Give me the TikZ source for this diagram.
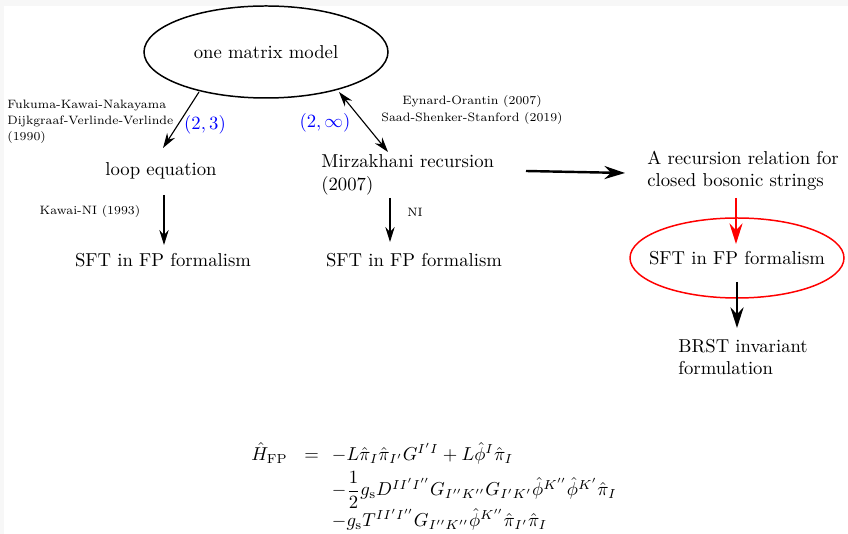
\documentclass[tikz,border=0pt]{standalone}
\usepackage{amsmath}
\usetikzlibrary{arrows.meta,shapes.geometric}
\begin{document}
\begin{tikzpicture}[x=0.535pt,y=-0.535pt,
  txt/.style={inner sep=0pt,font=\normalsize},
  cite/.style={inner sep=0pt,font=\fontsize{6.5}{8.6}\selectfont,align=left},
  cites/.style={inner sep=0pt,font=\fontsize{6.5}{9}\selectfont,align=center},
  lab/.style={inner sep=0pt,text=blue},
  arr/.style={-{Stealth[length=8pt,width=5pt]},line width=0.6pt},
  thickarr/.style={-{Stealth[length=11pt,width=7pt]},line width=1.3pt},
  redarr/.style={-{Stealth[length=11pt,width=7pt]},line width=0.9pt,red}]
\useasboundingbox (0,0) rectangle (848,534);
\fill[black!3] (0,0) rectangle (848,534);
\fill[white] (4,6) rectangle (848,534);
% nodes
\node[draw,ellipse,line width=0.8pt,inner sep=0pt,
      minimum width={244*0.535pt},minimum height={92*0.535pt}] (omm) at (266,52) {one matrix model};
\node[txt] (loop) at (161,171) {loop equation};
\node[txt,align=left,anchor=west] (mirz) at (321,175) {Mirzakhani recursion\\(2007)};
\node[txt,align=left,anchor=west] (rec) at (647,171) {A recursion relation for\\closed bosonic strings};
\node[txt] (sft1) at (163,260) {SFT in FP formalism};
\node[txt] (sft2) at (414,260) {SFT in FP formalism};
\node[txt] (sft3) at (737,258) {SFT in FP formalism};
\draw[red,line width=0.8pt] (sft3.center) ellipse [x radius=107, y radius=40];
\node[txt,align=left,anchor=west] (brst) at (678,357) {BRST invariant\\formulation};
% labels
\node[cite,anchor=west] (c1) at (7,122) {Fukuma-Kawai-Nakayama\\Dijkgraaf-Verlinde-Verlinde\\(1990)};
\node[cites] (c2) at (472,110) {Eynard-Orantin (2007)\\Saad-Shenker-Stanford (2019)};
\node[cites] (c3) at (90,211) {Kawai-NI (1993)};
\node[cites] (c4) at (415,212) {NI};
\node[lab] (l23) at (205,125) {$(2,3)$};
\node[lab] (l2i) at (325,123) {$(2,\infty)$};
% coordinates
\coordinate (a1s) at (199,92);
\coordinate (a1e) at (163,148);
\coordinate (a2s) at (339,92);
\coordinate (a2e) at (388,152);
\coordinate (a3s) at (164,195);
\coordinate (a3e) at (164,245);
\coordinate (a4s) at (390,198);
\coordinate (a4e) at (390,242);
\coordinate (a5s) at (526,171);
\coordinate (a5e) at (625,173);
\coordinate (a6s) at (736,198);
\coordinate (a6e) at (736,244);
\coordinate (a7s) at (737,282);
\coordinate (a7e) at (737,328);
% connectors
\draw[arr] (a1s) -- (a1e);
\draw[arr,{Stealth[length=8pt,width=5pt]}-{Stealth[length=8pt,width=5pt]}] (a2s) -- (a2e);
\draw[arr] (a3s) -- (a3e);
\draw[arr] (a4s) -- (a4e);
\draw[thickarr] (a5s) -- (a5e);
\draw[redarr] (a6s) -- (a6e);
\draw[thickarr] (a7s) -- (a7e);
% equation
\node[inner sep=0pt,anchor=west] (eq) at (251,488) {$\begin{array}{@{}r@{\hskip 9pt}c@{\hskip 7pt}l@{}}
\hat H_{\mathrm{FP}} &=& -L\hat\pi_I\hat\pi_{I'}G^{I'I}+L\hat\phi^I\hat\pi_I\\[2pt]
 && -\dfrac12 g_{\mathrm s} D^{II'I''}G_{I''K''}G_{I'K'}\hat\phi^{K''}\hat\phi^{K'}\hat\pi_I\\[2pt]
 && -g_{\mathrm s}T^{II'I''}G_{I''K''}\hat\phi^{K''}\hat\pi_{I'}\hat\pi_I
\end{array}$};
\end{tikzpicture}
\end{document}
